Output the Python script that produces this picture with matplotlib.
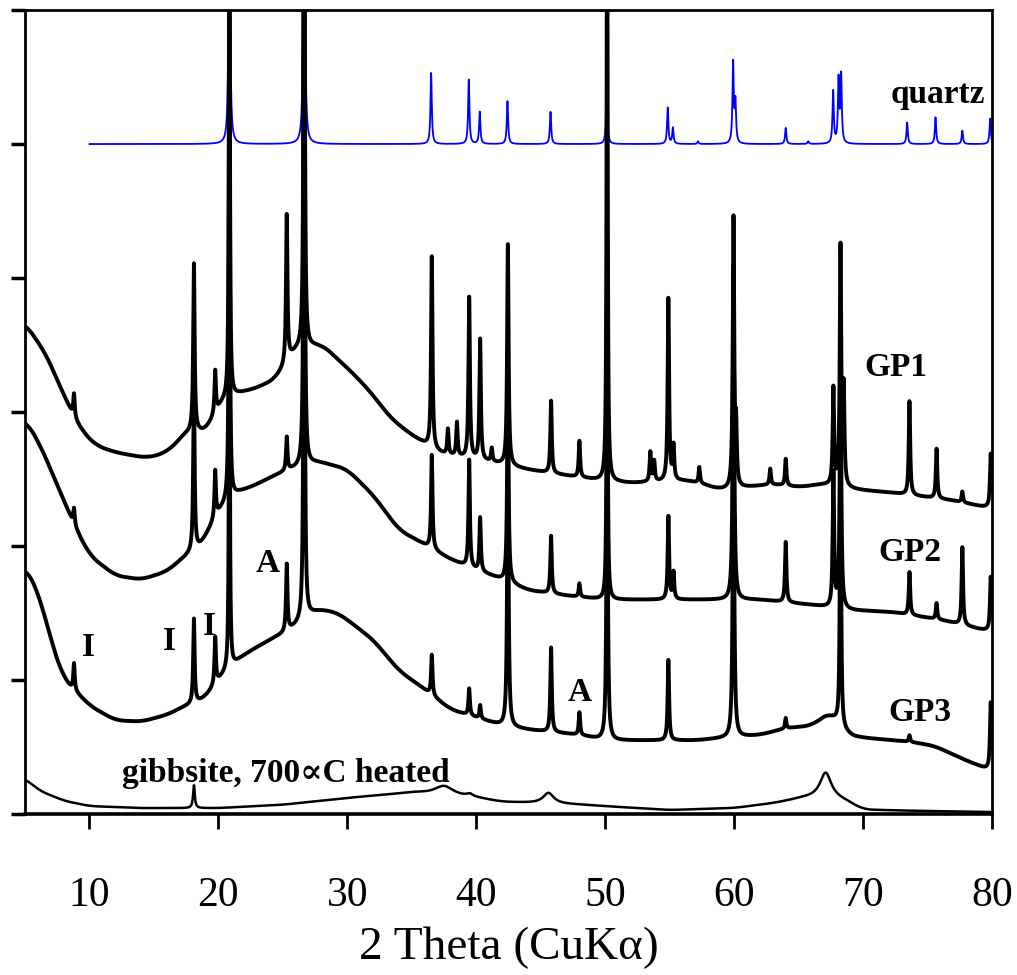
import numpy as np
import matplotlib.pyplot as plt

# 2-theta grid used to draw the traces
tt = np.arange(5.0, 80.0001, 0.01)

# quartz reference pattern (blue), offset 5.0
quartz_base = 5.0
quartz_pos = [20.85, 26.65, 36.5, 39.42, 40.27, 42.42, 45.76, 50.12, 54.85, 55.25, 57.2,
              59.92, 60.1, 64.0, 65.75, 67.68, 68.1, 68.3, 73.42, 75.62, 77.7, 79.86]
quartz_amp = [2.5, 6.0, 0.53, 0.48, 0.24, 0.32, 0.24, 0.46, 0.27, 0.12, 0.02,
              0.60, 0.30, 0.12, 0.02, 0.39, 0.47, 0.50, 0.16, 0.20, 0.10, 0.19]

# GP1
gp1_bx = [5, 5.6, 6.5, 7.3, 8, 8.8, 9.5, 10.5, 12, 13.1, 14.3, 15.5, 16.2, 17, 17.6, 18.5, 19.3,
          20.1, 21.5, 22.4, 23.5, 24.5, 26, 27.1, 28, 28.6, 30.2, 31.7, 33.3, 34.8, 36.4, 37.2,
          39, 41.5, 44, 46, 49.6, 52, 56, 57.3, 58.9, 61, 63, 65, 67, 69.5, 72, 74.5, 77, 79.5, 80]
gp1_by = [3.67, 3.57, 3.46, 3.28, 3.13, 2.96, 2.85, 2.75, 2.70, 2.68, 2.66, 2.68, 2.72, 2.79, 2.87,
          2.85, 2.88, 3.08, 3.14, 3.16, 3.20, 3.25, 3.48, 3.49, 3.50, 3.45, 3.31, 3.16, 2.96, 2.84,
          2.74, 2.69, 2.66, 2.62, 2.57, 2.54, 2.49, 2.47, 2.49, 2.47, 2.42, 2.44, 2.46, 2.44, 2.46,
          2.42, 2.40, 2.37, 2.34, 2.29, 2.29]
gp1_pos = [8.8, 18.1, 19.75, 20.85, 25.3, 26.65, 36.55, 37.8, 38.5, 39.45, 40.3, 41.2, 42.45,
           45.8, 48.0, 50.15, 53.5, 53.8, 54.9, 55.3, 57.3, 59.95, 60.15, 62.8, 64.0, 67.7,
           68.25, 68.5, 73.6, 75.7, 77.7, 79.9]
gp1_amp = [0.17, 1.25, 0.32, 4.0, 1.10, 6.0, 1.43, 0.19, 0.25, 1.20, 0.90, 0.10, 1.65,
           0.54, 0.27, 5.0, 0.22, 0.15, 1.36, 0.25, 0.12, 2.00, 0.40, 0.12, 0.20, 0.72,
           1.77, 0.70, 0.70, 0.37, 0.08, 0.40]

# GP2
gp2_bx = [5, 6, 7, 8, 8.8, 10, 12, 14, 16, 17.5, 18.8, 19.5, 21, 23, 24, 25.5, 27.5, 29, 30,
          32, 34, 36, 38, 40, 42, 44, 47, 50, 53, 57, 62, 66, 69, 72, 76, 79.5, 80]
gp2_by = [2.94, 2.79, 2.57, 2.34, 2.16, 1.93, 1.78, 1.75, 1.81, 1.93, 2.01, 2.19, 2.38, 2.46,
          2.51, 2.57, 2.63, 2.60, 2.57, 2.38, 2.12, 2.01, 1.90, 1.82, 1.75, 1.67, 1.63, 1.60,
          1.60, 1.60, 1.60, 1.56, 1.52, 1.51, 1.45, 1.37, 1.37]
gp2_pos = [8.8, 18.1, 19.75, 20.85, 25.3, 26.65, 36.55, 39.45, 40.3, 42.45, 45.8, 48.0, 50.15,
           54.9, 55.3, 59.95, 64.0, 67.7, 68.25, 73.6, 75.7, 77.7, 79.9]
gp2_amp = [0.12, 1.20, 0.35, 4.0, 0.25, 6.0, 0.70, 0.80, 0.40, 1.50, 0.43, 0.10, 3.0,
           0.62, 0.20, 2.50, 0.45, 1.00, 2.00, 0.32, 0.12, 0.58, 0.4]

# GP3
gp3_bx = [5, 6, 7, 8, 8.8, 10, 12, 14, 16, 17.5, 18.8, 20.3, 22, 24, 25.5, 27.5, 29, 30, 32,
          34, 36, 38, 40, 42, 44, 48, 50, 54, 57, 62, 64, 66, 67.5, 68.8, 70, 73.6, 75.5, 78,
          79.8, 80]
gp3_by = [1.84, 1.67, 1.30, 1.00, 0.93, 0.81, 0.70, 0.69, 0.74, 0.81, 0.85, 1.04, 1.19, 1.30,
          1.37, 1.52, 1.51, 1.45, 1.30, 1.07, 0.93, 0.78, 0.72, 0.66, 0.63, 0.59, 0.55, 0.55,
          0.55, 0.59, 0.64, 0.66, 0.76, 0.59, 0.57, 0.54, 0.51, 0.40, 0.33, 0.33]
gp3_pos = [8.8, 18.1, 19.75, 20.85, 25.3, 26.65, 36.55, 39.45, 40.3, 42.45, 45.8, 48.0, 50.15,
           54.9, 59.95, 64.0, 68.25, 73.6, 79.9]
gp3_amp = [0.20, 0.63, 0.35, 3.0, 0.50, 6.0, 0.30, 0.20, 0.10, 2.10, 0.63, 0.17, 2.30,
           0.60, 2.50, 0.08, 3.0, 0.05, 0.5]

# gibbsite heated at 700 C
gib_bx = [5, 6, 8, 10, 14, 20, 25, 30, 35, 40, 42, 48, 55, 60, 63, 65.5, 68.5, 70, 80]
gib_by = [0.27, 0.18, 0.10, 0.06, 0.045, 0.045, 0.07, 0.12, 0.16, 0.12, 0.09, 0.07, 0.03,
          0.045, 0.08, 0.12, 0.10, 0.03, 0.015]
gib_pos = [18.1, 37.5, 39.5, 45.6, 67.1]
gib_amp = [0.17, 0.07, 0.02, 0.08, 0.20]
gib_wid = [0.08, 0.9, 0.3, 0.5, 0.55]


def smooth(y, n=140):
    pad = np.concatenate([np.full(n, y[0]), y, np.full(n, y[-1])])
    k = np.ones(n) / n
    return np.convolve(pad, k, mode='same')[n:-n]


def pattern(bx, by, pos, amp, wid=0.065):
    y = smooth(np.interp(tt, bx, by))
    if np.isscalar(wid):
        wid = [wid] * len(pos)
    for p, a, w in zip(pos, amp, wid):
        if a > 2.5:
            w = w * 0.7
        y = y + a / (1 + ((tt - p) / w) ** 2)
    return y


plt.rcParams['font.family'] = ['Liberation Serif', 'DejaVu Serif']

fig = plt.figure(figsize=(10.17, 9.75), dpi=100)
ax = fig.add_axes([0.0246, 0.165, 0.9508, 0.8247])

qmask = tt >= 10
q = pattern([10, 80], [quartz_base, quartz_base], quartz_pos, quartz_amp, 0.06)
ax.plot(tt[qmask], q[qmask], color='#0000ff', lw=1.3)
ax.plot(tt, pattern(gp1_bx, gp1_by, gp1_pos, gp1_amp), color='black', lw=2.8)
ax.plot(tt, pattern(gp2_bx, gp2_by, gp2_pos, gp2_amp), color='black', lw=2.8)
ax.plot(tt, pattern(gp3_bx, gp3_by, gp3_pos, gp3_amp), color='black', lw=2.8)
ax.plot(tt, pattern(gib_bx, gib_by, gib_pos, gib_amp, gib_wid), color='black', lw=1.8)

ax.set_xlim(5, 80)
ax.set_ylim(0, 6)
ax.set_xticks(np.arange(10, 81, 10))
ax.set_yticks(np.arange(0, 7, 1))
ax.set_yticklabels([])
ax.tick_params(axis='x', direction='out', length=11, width=2, labelsize=30, pad=34)
ax.tick_params(axis='y', direction='out', length=10, width=2.5)
for s in ax.spines.values():
    s.set_linewidth(2)
ax.spines['bottom'].set_linewidth(2.6)

ax.set_xlabel('2 Theta (CuKα)', fontsize=34, labelpad=8)

bold = dict(fontweight='bold', fontsize=24)
ax.text(79.5, 5.37, 'quartz', ha='right', va='center', **bold)
ax.text(70.1, 3.33, 'GP1', ha='left', va='center', **bold)
ax.text(71.2, 1.95, 'GP2', ha='left', va='center', **bold)
ax.text(72.0, 0.76, 'GP3', ha='left', va='center', **bold)
ax.text(12.5, 0.3, 'gibbsite, 700∝C heated', ha='left', va='center', **bold)
for x, y, t in [(9.9, 1.24, 'I'), (16.2, 1.29, 'I'), (19.3, 1.4, 'I'),
                (23.8, 1.87, 'A'), (48.0, 0.91, 'A')]:
    ax.text(x, y, t, ha='center', va='center', **bold)

fig.savefig('out.png', dpi=100)
